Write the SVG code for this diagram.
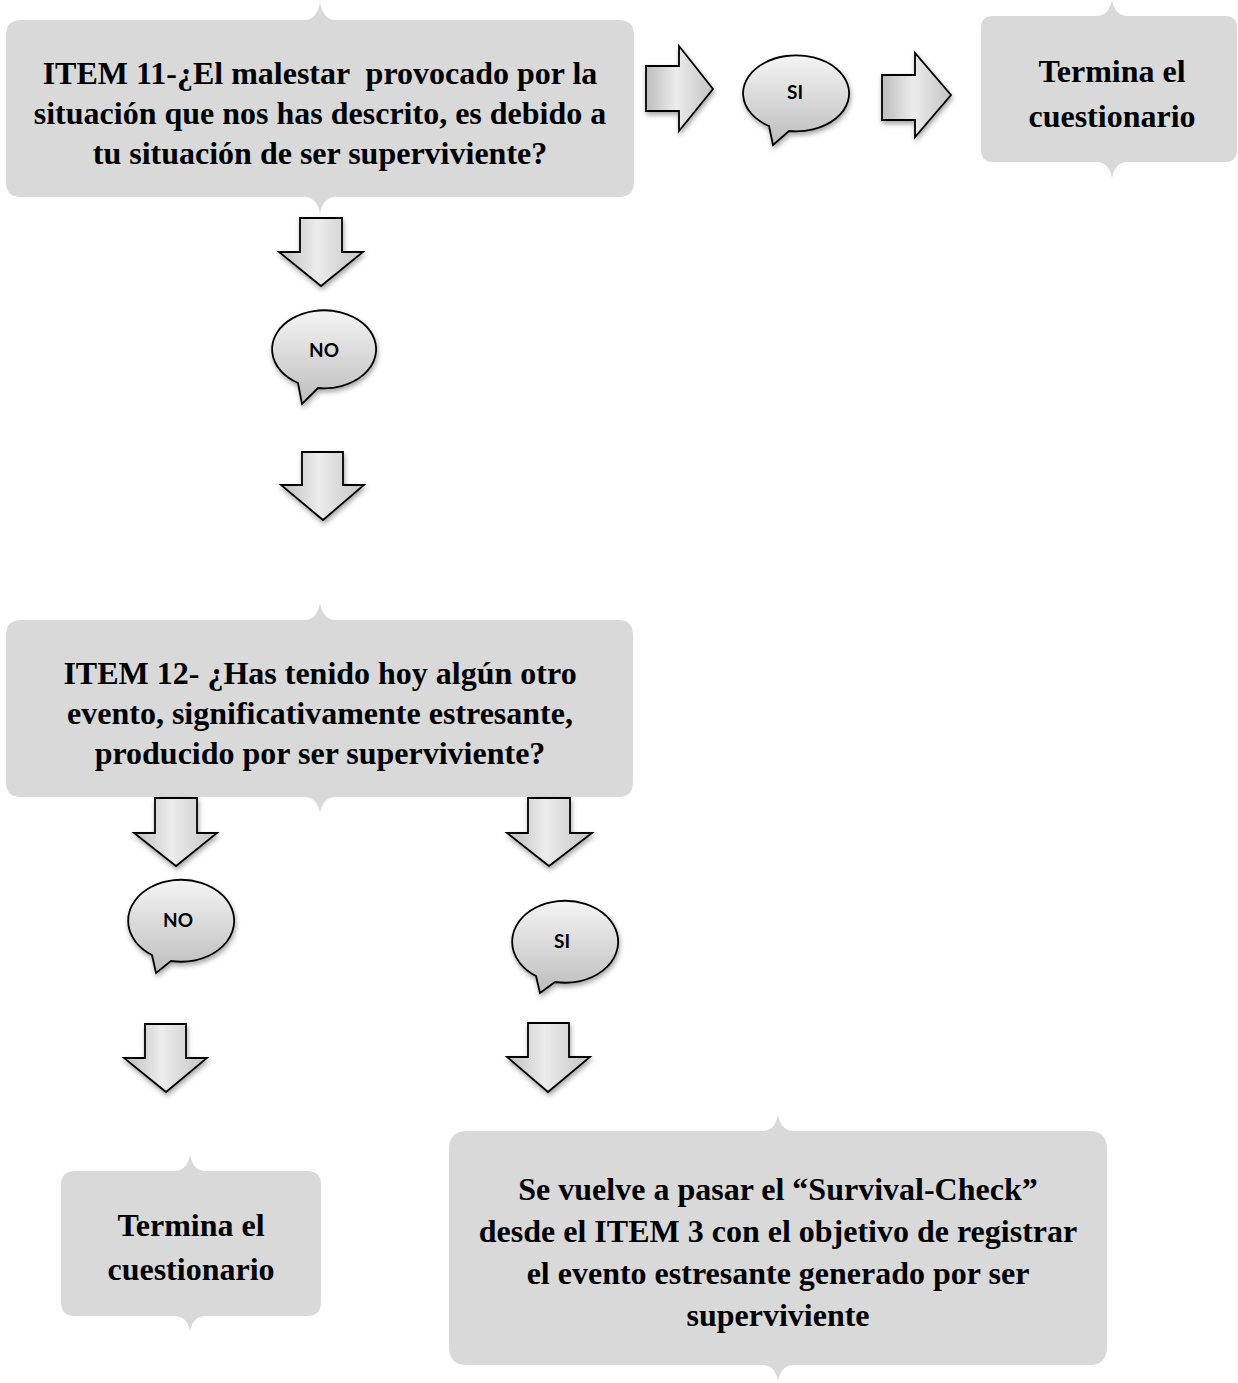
<svg xmlns="http://www.w3.org/2000/svg" width="1238" height="1383" viewBox="0 0 1238 1383">
<style>
.box{fill:#d9d9d9;}
.bt{font-family:"Liberation Serif","Times New Roman",serif;font-weight:bold;font-size:32px;fill:#000;text-anchor:middle;white-space:pre;}
.shape{stroke:#000;stroke-width:1.8;stroke-linejoin:miter;}
.bub{fill:url(#gb);}
.arr{fill:url(#ga);}
.lbl{font-family:Lato,"Open Sans","Liberation Sans",sans-serif;font-weight:bold;font-size:19px;fill:#000;text-anchor:middle;}
</style>
<defs>
<linearGradient id="gb" x1="0" y1="0" x2="0" y2="1">
<stop offset="0" stop-color="#f4f4f4"/>
<stop offset="1" stop-color="#bdbdbd"/>
</linearGradient>
<linearGradient id="ga" x1="0" y1="0" x2="1" y2="0">
<stop offset="0" stop-color="#bdbdbd"/>
<stop offset="0.45" stop-color="#ececec"/>
<stop offset="1" stop-color="#c4c4c4"/>
</linearGradient>
<filter id="sh" x="-20%" y="-20%" width="150%" height="150%">
<feDropShadow dx="1" dy="3" stdDeviation="2.5" flood-color="#000" flood-opacity="0.35"/>
</filter>
</defs>

<g id="item11">
<path class="box" d="M21,20 L304,20 Q317,20 320,2 Q323,20 336,20 L619,20 Q634,20 634,35 L634,182 Q634,197 619,197 L336,197 Q323,197 320,214 Q317,197 304,197 L21,197 Q6,197 6,182 L6,35 Q6,20 21,20 Z"/>
<text class="bt" x="320" y="84">ITEM 11-¿El malestar  provocado por la</text>
<text class="bt" x="320" y="124">situación que nos has descrito, es debido a</text>
<text class="bt" x="320" y="164">tu situación de ser superviviente?</text>
</g>

<g id="fin1">
<path class="box" d="M993,16 L1096,16 Q1109,16 1112,0 Q1115,16 1128,16 L1225,16 Q1237,16 1237,28 L1237,150 Q1237,162 1225,162 L1128,162 Q1115,162 1112,178 Q1109,162 1096,162 L993,162 Q981,162 981,150 L981,28 Q981,16 993,16 Z"/>
<text class="bt" x="1112" y="82">Termina el</text>
<text class="bt" x="1112" y="127">cuestionario</text>
</g>

<g id="item12">
<path class="box" d="M21,620 L304,620 Q317,620 320,603 Q323,620 336,620 L618,620 Q633,620 633,635 L633,782 Q633,797 618,797 L336,797 Q323,797 320,813 Q317,797 304,797 L21,797 Q6,797 6,782 L6,635 Q6,620 21,620 Z"/>
<text class="bt" x="320" y="684">ITEM 12- ¿Has tenido hoy algún otro</text>
<text class="bt" x="320" y="724">evento, significativamente estresante,</text>
<text class="bt" x="320" y="764">producido por ser superviviente?</text>
</g>

<g id="fin2">
<path class="box" d="M75,1171 L174,1171 Q187,1171 190,1155 Q193,1171 206,1171 L307,1171 Q321,1171 321,1185 L321,1302 Q321,1316 307,1316 L206,1316 Q193,1316 190,1331 Q187,1316 174,1316 L75,1316 Q61,1316 61,1302 L61,1185 Q61,1171 75,1171 Z"/>
<text class="bt" x="191" y="1236">Termina el</text>
<text class="bt" x="191" y="1280">cuestionario</text>
</g>

<g id="survival">
<path class="box" d="M467,1131 L762,1131 Q775,1131 778,1115 Q781,1131 794,1131 L1089,1131 Q1107,1131 1107,1149 L1107,1347 Q1107,1365 1089,1365 L794,1365 Q781,1365 778,1381 Q775,1365 762,1365 L467,1365 Q449,1365 449,1347 L449,1149 Q449,1131 467,1131 Z"/>
<text class="bt" x="778" y="1200">Se vuelve a pasar el “Survival-Check”</text>
<text class="bt" x="778" y="1242">desde el ITEM 3 con el objetivo de registrar</text>
<text class="bt" x="778" y="1284">el evento estresante generado por ser</text>
<text class="bt" x="778" y="1326">superviviente</text>
</g>

<g id="si1">
<path class="shape bub" filter="url(#sh)" d="M769,126 L773,145 L789,131 A53 38 0 1 0 769,126 Z"/>
<text class="lbl" x="795" y="99">SI</text>
</g>

<g id="no1">
<path class="shape bub" filter="url(#sh)" d="M298,383 L302,404 L318,388 A52 39 0 1 0 298,383 Z"/>
<text class="lbl" x="324" y="357">NO</text>
</g>

<g id="no2">
<path class="shape bub" filter="url(#sh)" d="M152,955 L156,973 L171,961 A53 41 0 1 0 152,955 Z"/>
<text class="lbl" x="178" y="927">NO</text>
</g>

<g id="si2">
<path class="shape bub" filter="url(#sh)" d="M536,976 L540,993 L555,982 A53 41 0 1 0 536,976 Z"/>
<text class="lbl" x="562" y="948">SI</text>
</g>

<g id="connectors">
<path class="shape arr" filter="url(#sh)" d="M646,66 L679,66 L679,46 L713,89 L679,131 L679,111 L646,111 Z"/>
<path class="shape arr" filter="url(#sh)" d="M882,75 L915,75 L915,53 L951,95 L915,137 L915,120 L882,120 Z"/>
<path class="shape arr" filter="url(#sh)" d="M300,218 L342,218 L342,252 L363,252 L321,286 L279,252 L300,252 Z"/>
<path class="shape arr" filter="url(#sh)" d="M302,452 L343,452 L343,485 L364,485 L323,520 L281,485 L302,485 Z"/>
<path class="shape arr" filter="url(#sh)" d="M155,798 L197,798 L197,833 L217,833 L176,866 L134,833 L155,833 Z"/>
<path class="shape arr" filter="url(#sh)" d="M528,798 L570,798 L570,833 L592,833 L549,866 L507,833 L528,833 Z"/>
<path class="shape arr" filter="url(#sh)" d="M145,1024 L186,1024 L186,1058 L207,1058 L166,1092 L124,1058 L145,1058 Z"/>
<path class="shape arr" filter="url(#sh)" d="M528,1023 L569,1023 L569,1057 L590,1057 L548,1092 L507,1057 L528,1057 Z"/>
</g>
</svg>
